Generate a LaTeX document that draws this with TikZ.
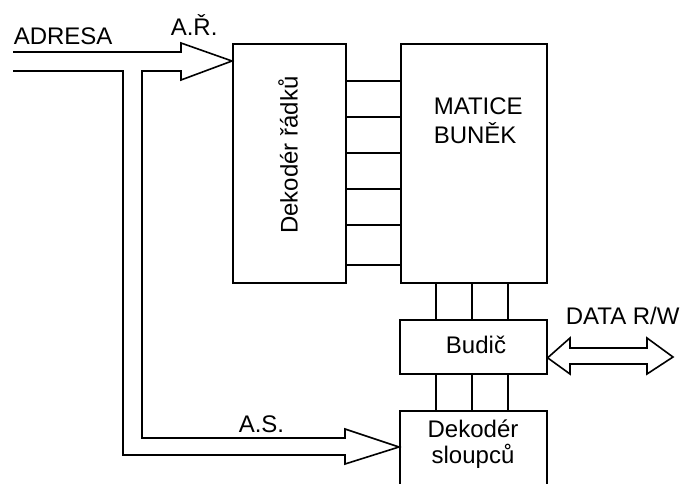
\documentclass[tikz,border=0pt]{standalone}
\usepackage{fontspec}
\setmainfont{Liberation Sans}
\usetikzlibrary{calc}
\begin{document}
\begin{tikzpicture}[x=1pt,y=-1pt, line width=1.6pt, line join=miter,
  box/.style={draw, rectangle, inner sep=0pt, anchor=north west},
  lbl/.style={font=\fontsize{24}{29}\selectfont, inner sep=0pt}]
\useasboundingbox (0,0) rectangle (694,483);
\clip (0,0) rectangle (694,483);
% boxes
\node[box, minimum width=113pt, minimum height=239pt] (rowdec) at (232,43) {};
\node[box, minimum width=146pt, minimum height=239pt] (matrix) at (400,43) {};
\node[box, minimum width=147pt, minimum height=54pt] (budic) at (399,319) {};
\node[box, minimum width=147pt, minimum height=100pt] (coldec) at (399,410) {};
% texts
\node[lbl, rotate=90] (rowtxt) at (288,155) {Dekodér řádků};
\node[lbl, anchor=base west] (matA) at (433,114) {MATICE};
\node[lbl, anchor=base west] (matB) at (433,143) {BUNĚK};
\node[lbl, anchor=base] (budtxt) at (476,353) {Budič};
\node[lbl, anchor=base] (coltxtA) at (473,437) {Dekodér};
\node[lbl, anchor=base] (coltxtB) at (473,463) {sloupců};
\node[lbl, anchor=base west] (adresa) at (13,44) {ADRESA};
\node[lbl, anchor=base west] (ar) at (170,35) {A.Ř.};
\node[lbl, anchor=base west] (as) at (238,432) {A.S.};
\node[lbl, anchor=base west] (data) at (565,324) {DATA R/W};
% row lines
\foreach \y in {38,74,110,146,182,222}
  \draw ($(rowdec.north east)+(0,\y)$) -- ($(matrix.north west)+(0,\y)$);
% column lines
\foreach \x in {36,72,108}{
  \coordinate (c1) at ($(matrix.south west)+(\x,0)$);
  \draw (c1) -- (c1 |- budic.north);
  \draw (c1 |- budic.south) -- (c1 |- coldec.north);
}
% address bus
\coordinate (adrIn) at (13,52);
\coordinate (adrIn2) at (13,71);
\coordinate (tipR) at ($(rowdec.north west)+(0,18)$);
\coordinate (tipC) at ($(coldec.north west)+(0,37)$);
\draw (adrIn) -- (181,52) -- (181,43) -- (tipR) -- (181,80) -- (181,71)
  -- (142,71) -- (142,438) -- (345,438) -- (345,429) -- (tipC)
  -- (345,464) -- (345,455) -- (123,455) -- (123,71) -- (adrIn2);
% data bus
\coordinate (tipB) at ($(budic.east)+(0,11)$);
\coordinate (dataOut) at (673,357);
\draw (tipB) -- (570,338) -- (570,348) -- (647,348) -- (647,338) -- (dataOut)
  -- (647,374) -- (647,364) -- (570,364) -- (570,374) -- cycle;
\end{tikzpicture}
\end{document}
